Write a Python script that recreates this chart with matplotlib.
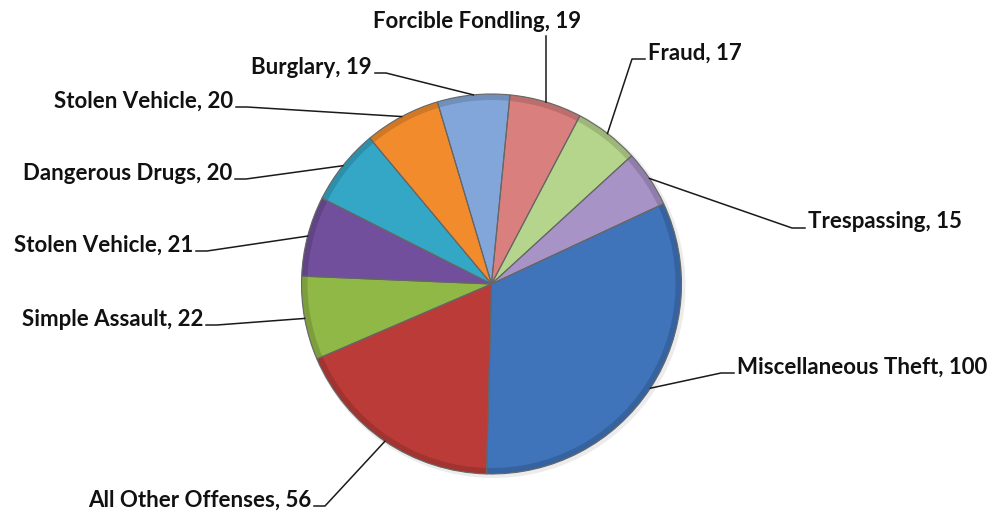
import numpy as np
import matplotlib.pyplot as plt
import matplotlib.colors as mcolors

# Dados do gráfico (ordem decrescente, sentido horário)
categorias = [
    "Miscellaneous Theft",
    "All Other Offenses",
    "Simple Assault",
    "Stolen Vehicle",
    "Dangerous Drugs",
    "Stolen Vehicle",
    "Burglary",
    "Forcible Fondling",
    "Fraud",
    "Trespassing",
]
valores = [100, 56, 22, 21, 20, 20, 19, 19, 17, 15]

cores = [
    "#3f73ba", "#bb3b38", "#90b847", "#714f9c", "#34a6c6",
    "#f28b2c", "#82a6da", "#d9807e", "#b6d58c", "#a793c6",
]

# Posição dos rótulos em pixels (x, y, alinhamento)
rotulos_pos = [
    (737, 367, "left"),
    (311, 500, "right"),
    (203, 319, "right"),
    (193, 245, "right"),
    (232, 173, "right"),
    (233, 101, "right"),
    (372, 67, "right"),
    (477, 22, "center"),
    (648, 53, "left"),
    (808, 222, "left"),
]

W, H = 994, 514
cx, cy, raio = 491.5, 284, 190

fig = plt.figure(figsize=(W / 100, H / 100), dpi=100)
ax = fig.add_axes([0, 0, 1, 1])

centro = (cx, H - cy)

# sombra bem suave
ax.pie(valores, radius=raio + 2, center=(cx + 2, H - cy - 2), startangle=25,
       counterclock=False, colors=["#ececec"] * len(valores),
       wedgeprops=dict(linewidth=0), frame=True)

# borda um pouco mais escura (efeito de bisel)
escuras = [mcolors.to_hex(np.array(mcolors.to_rgb(c)) * 0.86) for c in cores]
fatias, _ = ax.pie(valores, radius=raio, center=centro, startangle=25,
                   counterclock=False, colors=escuras,
                   wedgeprops=dict(linewidth=0), frame=True)

# parte interna
ax.pie(valores, radius=raio - 6, center=centro, startangle=25,
       counterclock=False, colors=cores,
       wedgeprops=dict(linewidth=0), frame=True)

# linhas separando as fatias
ax.pie(valores, radius=raio, center=centro, startangle=25,
       counterclock=False, colors=["none"] * len(valores),
       wedgeprops=dict(linewidth=0.8, edgecolor="#666666", fill=False), frame=True)

ax.set_xlim(0, W)
ax.set_ylim(0, H)
ax.set_aspect("equal")
ax.axis("off")

for fatia, nome, valor, (tx, ty, ha) in zip(fatias, categorias, valores, rotulos_pos):
    meio = np.deg2rad((fatia.theta1 + fatia.theta2) / 2)
    px = cx + raio * np.cos(meio)
    py = cy - raio * np.sin(meio)
    if ha == "center":
        xs = [px, px]
        ys = [py, ty + 14]
    elif ha == "left":
        xs = [px, tx - 16, tx - 3]
        ys = [py, ty + 6, ty + 6]
    else:
        xs = [px, tx + 14, tx + 3]
        ys = [py, ty + 6, ty + 6]
    ax.plot(xs, [H - y for y in ys], color="#1a1a1a", linewidth=1.1)
    ax.text(tx, H - ty, f"{nome}, {valor}", ha=ha, va="center",
            fontsize=16, fontweight="bold", family="Lato", color="#111111")

fig.savefig("out.png", dpi=100, facecolor="white")
